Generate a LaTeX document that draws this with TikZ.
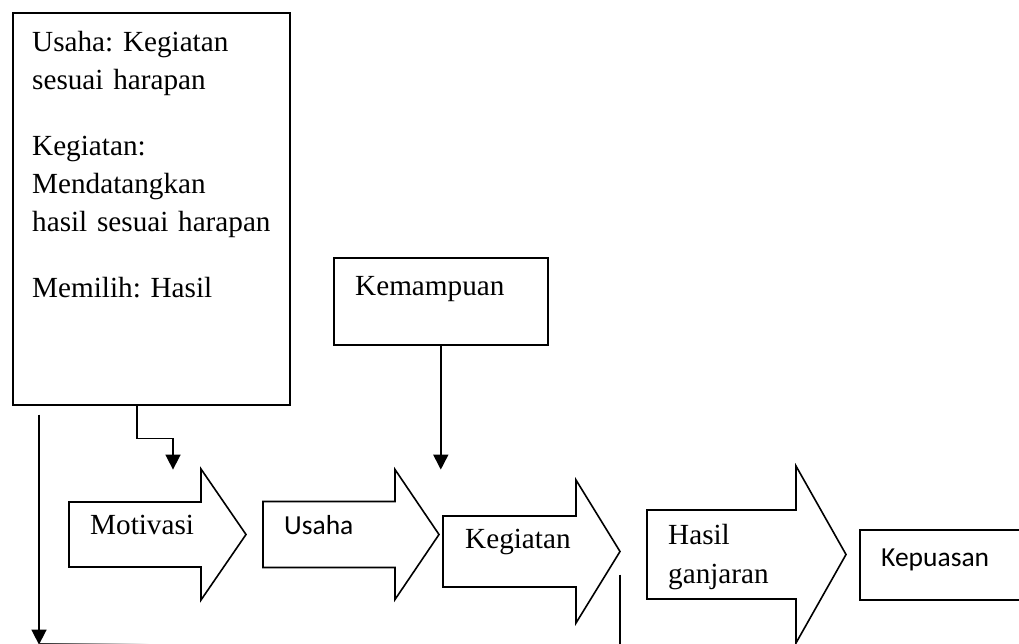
\documentclass[tikz,border=0pt]{standalone}
\usepackage{fontspec}
\setmainfont{Liberation Serif}
\newfontfamily\calibri{Carlito}
\usetikzlibrary{arrows.meta}
\frenchspacing

\tikzset{
    garis/.style={black, line width=1.6pt},
    kotak/.style={draw, garis, inner sep=0pt},
    teks/.style={inner sep=0pt, align=left, font=\fontsize{29.2}{38}\selectfont},
    teksc/.style={inner sep=0pt, font=\calibri\fontsize{27.5}{34}\selectfont},
    panah/.style={garis, -{Triangle[width=15pt,length=15pt]}},
}

% nama, kiri, leher, ujung, tengah, setengah badan, setengah kepala
\newcommand{\Panah}[7]{
    \draw[garis, line join=miter] (#2,#5-#6) -- (#3,#5-#6) -- (#3,#5-#7) -- (#4,#5)
        -- (#3,#5+#7) -- (#3,#5+#6) -- (#2,#5+#6) -- cycle;
    \coordinate (#1) at (#4,#5);
}

\begin{document}
\begin{tikzpicture}[x=1pt, y=-1pt]
    \useasboundingbox (0,0) rectangle (1019,644);
    \node[kotak, minimum width=277pt, minimum height=392pt, anchor=north west] (syarat) at (12,12) {};
    \node[teks, text width=265pt, anchor=north west] at (32,31)
        {Usaha: Kegiatan\\sesuai harapan\\[28pt]Kegiatan:\\Mendatangkan\\hasil sesuai harapan\\[28pt]Memilih: Hasil};
    \node[kotak, minimum width=214pt, minimum height=87pt, anchor=north west] (kemampuan) at (333,257) {};
    \node[teks, anchor=base west] at (355,295) {Kemampuan};
    \node[kotak, minimum width=180pt, minimum height=70pt, anchor=north west] (kepuasan) at (859,529) {};
    \node[teksc, anchor=base west] at (881,566) {Kepuasan};

    \Panah{motivasi}{69}{201}{246}{534.5}{32.5}{65.5}
    \Panah{usaha}{263}{395}{439}{534.5}{33}{65}
    \Panah{kegiatan}{443}{576}{620}{551.5}{35.5}{71.5}
    \Panah{hasil}{647}{796}{846}{554.5}{44.5}{88.5}
    \node[teks, anchor=base west] at (90,534) {Motivasi};
    \node[teksc, anchor=base west] at (284,534) {Usaha};
    \node[teks, anchor=base west] at (465,548) {Kegiatan};
    \node[teks, anchor=north west] at (668,524) {Hasil\\[1pt]ganjaran};

    \draw[panah] ([xshift=125pt]syarat.south west) -- ++(0,33) -- ++(36,0) -- ++(0,31);
    \draw[panah] (kemampuan.south) -- ++(0,124);
    \draw[panah] ([xshift=27pt,yshift=-9pt]syarat.south west) coordinate (turun) -- ++(0,230);
    \shade[left color=black!85, right color=white] ([yshift=-229pt]turun) rectangle ++(110,1.5);
    \draw[garis] ([yshift=-23pt]kegiatan) -- ++(0,80);
\end{tikzpicture}
\end{document}
